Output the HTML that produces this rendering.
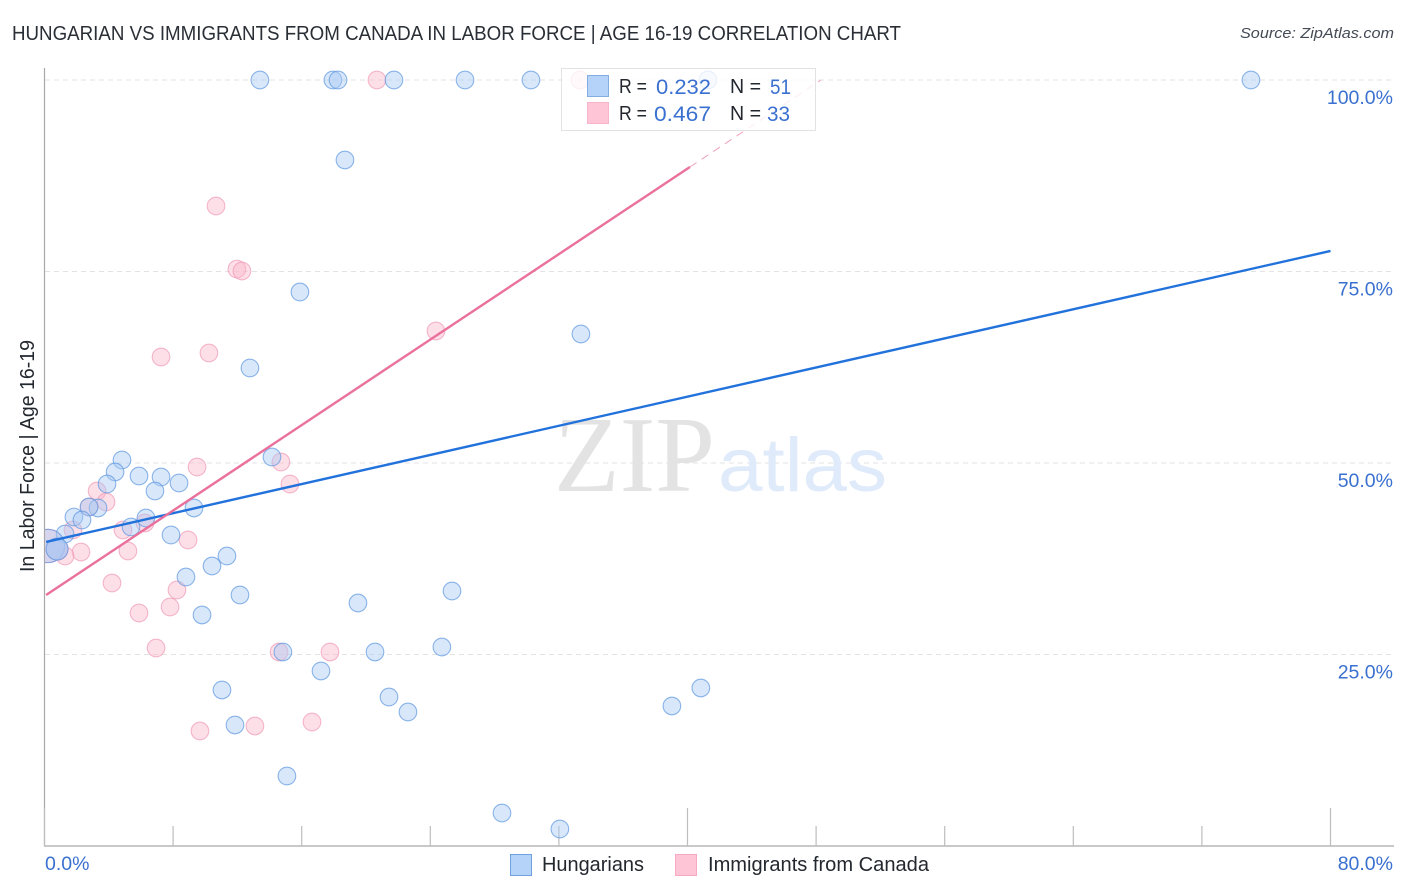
<!DOCTYPE html>
<html lang="en">
<head>
<meta charset="utf-8">
<title>Hungarian vs Immigrants from Canada in Labor Force | Age 16-19 Correlation Chart</title>
<style>
html,body{margin:0;padding:0;background:#fff;}
body{width:1406px;height:892px;overflow:hidden;}
svg{display:block;font-family:"Liberation Sans",sans-serif;}
</style>
</head>
<body>
<svg id="chart" width="1406" height="892" viewBox="0 0 1406 892" xmlns="http://www.w3.org/2000/svg">
  <defs>
    <clipPath id="plot-clip"><rect x="45" y="60" width="1349" height="786"/></clipPath>
  </defs>
  <rect x="0" y="0" width="1406" height="892" fill="#fff"/>
  <text x="12" y="40" font-size="20" fill="#2a2f36" textLength="889" lengthAdjust="spacingAndGlyphs">HUNGARIAN VS IMMIGRANTS FROM CANADA IN LABOR FORCE | AGE 16-19 CORRELATION CHART</text>
  <text x="1394" y="38" font-size="15" font-style="italic" fill="#444b55" text-anchor="end" textLength="154" lengthAdjust="spacingAndGlyphs">Source: ZipAtlas.com</text>
  <g id="grid-layer"></g>
  <g>
    <text x="554" y="491" font-family="'Liberation Serif',serif" font-size="108" fill="#e3e3e3" textLength="161" lengthAdjust="spacingAndGlyphs">ZIP</text>
    <text x="718" y="491" font-size="76" fill="#dfeafa" textLength="169" lengthAdjust="spacingAndGlyphs">atlas</text>
  </g>
  <g id="axis-layer"></g>
  <g id="points-layer" clip-path="url(#plot-clip)"></g>
  <g id="lines-layer"></g>
  <g>
    <rect x="561.5" y="68.5" width="254" height="62" fill="#fff" fill-opacity="0.8" stroke="#e2e2e2" stroke-width="1"/>
    <rect x="587.5" y="75.5" width="21" height="21" fill="#b5d2f8" stroke="#84aee0" stroke-width="1"/>
    <rect x="587.5" y="102.5" width="21" height="21" fill="#fec5d7" stroke="#f8b4ca" stroke-width="1"/>
    <g font-size="20" fill="#23282f">
      <text x="619" y="93" textLength="28" lengthAdjust="spacingAndGlyphs">R =</text>
      <text x="730" y="93" textLength="31" lengthAdjust="spacingAndGlyphs">N =</text>
      <text x="619" y="120" textLength="28" lengthAdjust="spacingAndGlyphs">R =</text>
      <text x="730" y="120" textLength="31" lengthAdjust="spacingAndGlyphs">N =</text>
    </g>
    <g font-size="21" fill="#3a70cf">
      <text x="656" y="94" textLength="55" lengthAdjust="spacingAndGlyphs">0.232</text>
      <text x="770" y="94" textLength="21" lengthAdjust="spacingAndGlyphs">51</text>
      <text x="654" y="121" textLength="57" lengthAdjust="spacingAndGlyphs">0.467</text>
      <text x="767" y="121" textLength="23" lengthAdjust="spacingAndGlyphs">33</text>
    </g>
  </g>
  <text transform="translate(34,572) rotate(-90)" font-size="20" fill="#23282f" textLength="232" lengthAdjust="spacingAndGlyphs">In Labor Force | Age 16-19</text>
  <g>
    <rect x="510.5" y="854.5" width="21" height="21" fill="#b5d2f8" stroke="#6fa3e0" stroke-width="1"/>
    <text x="542" y="871" font-size="20" fill="#23282f" textLength="102" lengthAdjust="spacingAndGlyphs">Hungarians</text>
    <rect x="675.5" y="854.5" width="21" height="21" fill="#fec5d7" stroke="#f8a9c2" stroke-width="1"/>
    <text x="708" y="871" font-size="20" fill="#23282f" textLength="221" lengthAdjust="spacingAndGlyphs">Immigrants from Canada</text>
  </g>
</svg>
<script>
var yTickValues = [100, 75, 50, 25];
var yTickLabels = ["100.0%", "75.0%", "50.0%", "25.0%"];
var xTickValues = [0, 8, 16, 24, 32, 40, 48, 56, 64, 72, 80];
var xMajorTicks = [0, 40, 80];
var xEndLabels = ["0.0%", "80.0%"];

var hungarianX = [13.40,17.94,18.26,21.74,26.16,30.26,41.27,75.05,18.69,15.89,33.37,12.78,14.15,4.82,4.39,5.88,7.25,3.89,8.37,6.87,3.33,2.77,9.30,1.83,2.33,6.31,5.38,1.28,7.87,11.35,10.42,8.80,12.16,25.35,19.50,9.80,14.83,20.56,24.72,17.20,11.04,21.43,22.61,39.03,40.83,11.85,15.08,28.46,32.06,0.22,0.78];
var hungarianY = [100,100,100,100,100,100,100,100,89.56,72.32,66.84,62.40,50.78,50.39,48.83,48.30,48.17,47.26,47.39,46.35,44.13,44.26,44.13,42.95,42.56,42.82,41.65,40.73,40.60,37.86,36.55,35.12,32.77,33.29,31.72,30.16,25.33,25.33,25.98,22.85,20.37,19.45,17.49,18.28,20.63,15.80,9.14,4.31,2.22,39.17,38.77];
var hungarianWeight = [1,1,1,1,1,1,1,1,1,1,1,1,1,1,1,1,1,1,1,1,1,1,1,1,1,1,1,1,1,1,1,1,1,1,1,1,1,1,1,1,1,1,1,1,1,1,1,1,1,3.6,1.5];

var immigrantX = [20.68,33.31,10.67,11.97,12.28,7.25,10.23,24.35,9.49,14.71,15.27,3.27,3.83,2.77,4.88,6.25,8.93,5.19,1.77,2.27,1.28,0.78,4.20,8.24,5.88,7.81,6.94,14.59,17.76,9.67,13.09,16.64,0.22];
var immigrantY = [100,100,83.55,75.32,75.07,63.84,64.36,67.23,49.48,50.13,47.26,46.35,44.91,44.26,41.25,42.17,39.95,38.51,41.25,38.38,37.86,38.77,34.33,33.42,30.42,31.20,25.85,25.33,25.33,15.01,15.67,16.19,39.17];
var immigrantWeight = [1,1,1,1,1,1,1,1,1,1,1,1,1,1,1,1,1,1,1,1,1,1.5,1,1,1,1,1,1,1,1,1,1,3.6];

var hungarianTrendX = [0.1, 80];
var hungarianTrendY = [39.69, 77.68];
var immigrantTrendX = [0.1, 40.15];
var immigrantTrendY = [32.77, 88.64];
var immigrantDashX = [40.15, 48.3];
var immigrantDashY = [88.64, 100];

var SVG_NS = "http://www.w3.org/2000/svg";
function xScale(v) { return 44.5 + v * (1330.5 - 44.5) / 80; }
function yScale(v) { return 846 - v * (846 - 80) / 100; }
function make(tag, attrs, parent) {
  var el = document.createElementNS(SVG_NS, tag);
  for (var k in attrs) { el.setAttribute(k, attrs[k]); }
  parent.appendChild(el);
  return el;
}
var gridLayer = document.getElementById("grid-layer");
var axisLayer = document.getElementById("axis-layer");
var pointsLayer = document.getElementById("points-layer");
var linesLayer = document.getElementById("lines-layer");

yTickValues.forEach(function (v, i) {
  var py = yScale(v);
  var line = make("line", {x1: 45, x2: 1394, y1: py, y2: py, stroke: "#e3e3e3", "stroke-width": 1, "stroke-dasharray": "5 4"}, gridLayer);
  
  
  var label = make("text", {x: 1393, y: py + 24, "text-anchor": "end", "font-size": 19.5, fill: "#3a70cf"}, axisLayer);
  
  
  label.textContent = yTickLabels[i];
});

var yAxis = make("line", {x1: 44.5, x2: 44.5, y1: 68, y2: 846.5, stroke: "#a9a9a9", "stroke-width": 1.2}, axisLayer);


var xAxis = make("line", {x1: 44, x2: 1394, y1: 846, y2: 846, stroke: "#a9a9a9", "stroke-width": 1.2}, axisLayer);



xTickValues.forEach(function (v) {
  var px = xScale(v);
  var top = xMajorTicks.indexOf(v) >= 0 ? 808 : 826;
  var tick = make("line", {x1: px, x2: px, y1: top, y2: 846, stroke: "#bdbdbd", "stroke-width": 1.2}, axisLayer);
  
  
});

var xLabelStart = make("text", {x: 45, y: 870, "font-size": 19.5, fill: "#3a70cf"}, axisLayer);


xLabelStart.textContent = xEndLabels[0];
var xLabelEnd = make("text", {x: 1393, y: 870, "text-anchor": "end", "font-size": 19.5, fill: "#3a70cf"}, axisLayer);


xLabelEnd.textContent = xEndLabels[1];

function drawPoints(xs, ys, weights, fill, stroke, pointName) {
  xs.forEach(function (v, i) {
    var w = weights[i];
    var c = make("circle", {cx: xScale(v), cy: yScale(ys[i]), r: 8.8 * w / (w > 2 ? 1.9 : (w > 1 ? 1.2 : 1)), fill: fill, "fill-opacity": (w > 1 && w < 2) ? 0.75 : 0.45, stroke: stroke, "stroke-opacity": 0.7, "stroke-width": 1.1}, pointsLayer);
    
    
  });
}
drawPoints(immigrantX, immigrantY, immigrantWeight, "#fbb9cd", "#f09ab6", "immigrant-point");
drawPoints(hungarianX, hungarianY, hungarianWeight, "#a9caf5", "#5e97e0", "hungarian-point");

var blueLine = make("line", {x1: xScale(hungarianTrendX[0]), y1: yScale(hungarianTrendY[0]), x2: xScale(hungarianTrendX[1]), y2: yScale(hungarianTrendY[1]), stroke: "#2272dc", "stroke-width": 2.4}, linesLayer);


var pinkLine = make("line", {x1: xScale(immigrantTrendX[0]), y1: yScale(immigrantTrendY[0]), x2: xScale(immigrantTrendX[1]), y2: yScale(immigrantTrendY[1]), stroke: "#e9719c", "stroke-width": 2.4}, linesLayer);


var pinkDash = make("line", {x1: xScale(immigrantDashX[0]), y1: yScale(immigrantDashY[0]), x2: xScale(immigrantDashX[1]), y2: yScale(immigrantDashY[1]), stroke: "#f0a3bd", "stroke-width": 1, "stroke-dasharray": "8 6"}, linesLayer);


</script>
</body>
</html>
